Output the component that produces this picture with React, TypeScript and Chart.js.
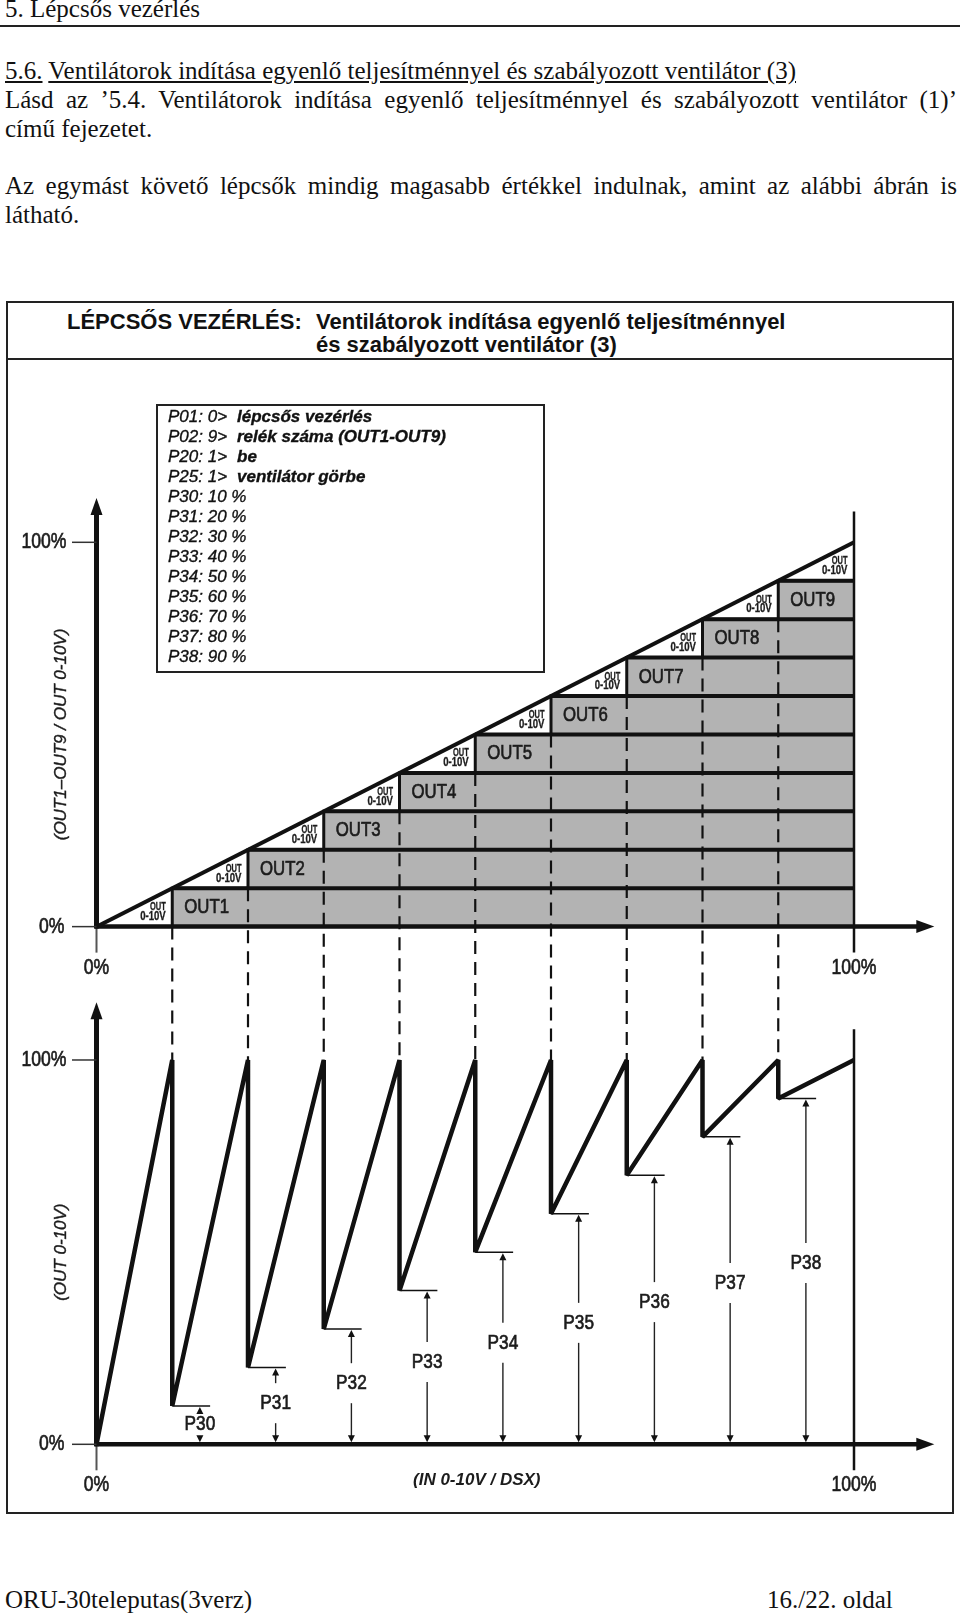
import React, { useEffect, useRef } from "react";
import { Chart, registerables } from "chart.js";

Chart.register(...registerables);

// ---------- data ----------
const stepLevels = [10, 20, 30, 40, 50, 60, 70, 80, 90]; // P30..P38 switch / restart levels (%)
const outLabels = ["OUT1", "OUT2", "OUT3", "OUT4", "OUT5", "OUT6", "OUT7", "OUT8", "OUT9"];
const paramNames = ["P30", "P31", "P32", "P33", "P34", "P35", "P36", "P37", "P38"];
const paramLabelPos = [5.2, 10.7, 15.9, 21.4, 26.4, 31.6, 37.0, 42.0, 47.2];
const axisTickLabels = ["0%", "100%"];
const triangleLabel = ["OUT", "0-10V"];
const topYTitle = "(OUT1–OUT9 / OUT 0-10V)";
const bottomYTitle = "(OUT 0-10V)";
const bottomXTitle = "(IN 0-10V / DSX)";
const settingRows = [
  ["P01:", "0>", "lépcsős vezérlés"],
  ["P02:", "9>", "relék száma (OUT1-OUT9)"],
  ["P20:", "1>", "be"],
  ["P25:", "1>", "ventilátor görbe"],
];

// vertical offset (in bottom-panel % units) of the upper panel's 0% line
const TOP = 134.7;

const SANS = '"Liberation Sans", Arial, sans-serif';
const SERIF = '"Liberation Serif", "Times New Roman", serif';

function cText(ctx: CanvasRenderingContext2D, text: string, x: number, y: number, font: string, align: CanvasTextAlign, sx: number, color = "#1c1c1c", stroke = 0.7) {
  ctx.save();
  ctx.font = font;
  ctx.fillStyle = color;
  ctx.strokeStyle = color;
  ctx.lineWidth = stroke;
  ctx.textBaseline = "middle";
  ctx.textAlign = align;
  ctx.translate(x, y);
  ctx.scale(sx, 1);
  ctx.fillText(text, 0, 0);
  if (stroke > 0) ctx.strokeText(text, 0, 0);
  ctx.restore();
}

function tri(ctx: CanvasRenderingContext2D, pts: number[][]) {
  ctx.beginPath();
  ctx.moveTo(pts[0][0], pts[0][1]);
  for (let i = 1; i < pts.length; i++) ctx.lineTo(pts[i][0], pts[i][1]);
  ctx.closePath();
  ctx.fill();
}

const decorPlugin = {
  id: "decor",
  afterDatasetsDraw(chart: any) {
    const ctx: CanvasRenderingContext2D = chart.ctx;
    const xs = chart.scales.x;
    const ys = chart.scales.y;
    const X = (v: number) => xs.getPixelForValue(v);
    const Y = (v: number) => ys.getPixelForValue(v);
    ctx.save();
    ctx.strokeStyle = "#111";
    ctx.fillStyle = "#111";
    ctx.lineCap = "butt";

    const panels = [
      { base: TOP, tip: 111.5, title: topYTitle },
      { base: 0, tip: 115, title: bottomYTitle },
    ];
    panels.forEach((p) => {
      const x0 = X(0);
      const y0 = Y(p.base);
      // thin continuation below origin
      ctx.strokeStyle = "#555";
      ctx.lineWidth = 2;
      ctx.beginPath();
      ctx.moveTo(x0, y0);
      ctx.lineTo(x0, y0 + 26);
      ctx.stroke();
      // 100% vertical
      ctx.strokeStyle = "#111";
      ctx.lineWidth = 2.5;
      ctx.beginPath();
      ctx.moveTo(X(100), Y(p.base + 108));
      ctx.lineTo(X(100), y0 + 26);
      ctx.stroke();
      // y axis
      const yt = Y(p.base + p.tip);
      ctx.lineWidth = 5;
      ctx.beginPath();
      ctx.moveTo(x0, y0 + 2);
      ctx.lineTo(x0, yt + 12);
      ctx.stroke();
      ctx.fillStyle = "#111";
      tri(ctx, [[x0, yt], [x0 - 6, yt + 17], [x0 + 6, yt + 17]]);
      // x axis
      const xt = X(110.6);
      ctx.lineWidth = 4.5;
      ctx.beginPath();
      ctx.moveTo(x0 - 2, y0);
      ctx.lineTo(xt - 12, y0);
      ctx.stroke();
      tri(ctx, [[xt, y0], [xt - 18, y0 - 6.5], [xt - 18, y0 + 6.5]]);
      // y ticks
      ctx.lineWidth = 1.5;
      ctx.strokeStyle = "#333";
      [0, 100].forEach((v) => {
        ctx.beginPath();
        ctx.moveTo(x0 - 24.5, Y(p.base + v));
        ctx.lineTo(x0, Y(p.base + v));
        ctx.stroke();
      });
      cText(ctx, axisTickLabels[0], x0 - 32, y0, `22px ${SANS}`, "right", 0.8);
      cText(ctx, axisTickLabels[1], x0 - 30, Y(p.base + 100), `22px ${SANS}`, "right", 0.8);
      cText(ctx, axisTickLabels[0], X(0), y0 + 41, `22px ${SANS}`, "center", 0.8);
      cText(ctx, axisTickLabels[1], X(100), y0 + 41, `22px ${SANS}`, "center", 0.8);
      // rotated axis title
      ctx.save();
      ctx.translate(x0 - 35.5, Y(p.base + 50));
      ctx.rotate(-Math.PI / 2);
      ctx.font = `italic 17px ${SANS}`;
      ctx.fillStyle = "#1c1c1c";
      ctx.strokeStyle = "#1c1c1c";
      ctx.lineWidth = 0.4;
      ctx.textAlign = "center";
      ctx.textBaseline = "middle";
      ctx.fillText(p.title, 0, 0);
      ctx.strokeText(p.title, 0, 0);
      ctx.restore();
    });

    // bottom x title
    ctx.font = `bold italic 17px ${SANS}`;
    ctx.fillStyle = "#1c1c1c";
    ctx.textAlign = "center";
    ctx.textBaseline = "middle";
    ctx.fillText(bottomXTitle, X(50.2), Y(0) + 36);

    // OUT labels in the grey blocks
    stepLevels.forEach((l, i) => {
      cText(ctx, outLabels[i], X(l) + 12, Y(TOP + l - 5), `21px ${SANS}`, "left", 0.8);
    });
    // "OUT 0-10V" labels in white triangles
    [0, ...stepLevels].forEach((l) => {
      const right = X(l + 10) - 6.5;
      const bottom = Y(TOP + l);
      cText(ctx, triangleLabel[0], right, bottom - 19.5, `bold 11px ${SANS}`, "right", 0.68, "#1c1c1c", 0.3);
      cText(ctx, triangleLabel[1], right, bottom - 10, `bold 12px ${SANS}`, "right", 0.8, "#1c1c1c", 0.3);
    });

    // P30..P38 dimension arrows
    stepLevels.forEach((l, i) => {
      const ax = X(l + 3.65);
      const top = Y(l);
      const bot = Y(0);
      const ly = Y(paramLabelPos[i]);
      ctx.strokeStyle = "#222";
      ctx.fillStyle = "#111";
      ctx.lineWidth = 1.4;
      if (ly - 20 > top + 6) {
        ctx.beginPath();
        ctx.moveTo(ax, top + 5);
        ctx.lineTo(ax, ly - 20);
        ctx.stroke();
      }
      if (ly + 20 < bot - 6) {
        ctx.beginPath();
        ctx.moveTo(ax, ly + 20);
        ctx.lineTo(ax, bot - 5);
        ctx.stroke();
      }
      tri(ctx, [[ax, top + 1], [ax - 3.5, top + 8], [ax + 3.5, top + 8]]);
      tri(ctx, [[ax, bot - 2], [ax - 3.5, bot - 9], [ax + 3.5, bot - 9]]);
      cText(ctx, paramNames[i], ax, ly, `21px ${SANS}`, "center", 0.82);
    });
    ctx.restore();
  },
};

function line(data: { x: number; y: number }[], extra: any = {}) {
  return {
    type: "line",
    data,
    borderColor: "#111",
    borderWidth: 4,
    borderJoinStyle: "bevel",
    pointRadius: 0,
    fill: false,
    tension: 0,
    order: 0,
    ...extra,
  };
}

export default function App() {
  const canvasRef = useRef<HTMLCanvasElement | null>(null);

  useEffect(() => {
    const canvas = canvasRef.current;
    if (!canvas) return;

    const last = stepLevels[stepLevels.length - 1];
    const stairs = [{ x: stepLevels[0], y: TOP }, ...stepLevels.map((l) => ({ x: l, y: TOP + l })), { x: 100, y: TOP + last }];
    const datasets: any[] = [];
    // grey staircase (OUT1..OUT9 blocks)
    datasets.push(
      line(stairs, {
        stepped: "before",
        fill: { value: TOP },
        backgroundColor: "#b3b3b3",
        borderWidth: 3,
        borderJoinStyle: "miter",
        order: 10,
      })
    );
    // level lines across the blocks
    stepLevels.forEach((l) => datasets.push(line([{ x: l, y: TOP + l }, { x: 100, y: TOP + l }], { borderWidth: 4, order: 1 })));
    // diagonal OUT 0-10V envelope
    datasets.push(line([{ x: 0, y: TOP }, { x: 100, y: TOP + 100 }], { borderWidth: 4, order: 1 }));
    // dashed switching lines
    stepLevels.forEach((l, i) => {
      const from = i === 0 ? 0 : stepLevels[i - 1];
      datasets.push(line([{ x: l, y: TOP + from }, { x: l, y: 100 }], { borderWidth: 2.2, borderDash: [13, 8], order: 2 }));
    });
    // sawtooth of the regulated output
    const saw = [{ x: 0, y: 0 }, ...stepLevels.flatMap((l) => [{ x: l, y: 100 }, { x: l, y: l }]), { x: 100, y: 100 }];
    datasets.push(line(saw, { borderWidth: 4.5, order: 0 }));
    // restart level reference ticks
    stepLevels.forEach((l) => datasets.push(line([{ x: l, y: l }, { x: l + 5, y: l }], { borderWidth: 1.5, order: 1 })));

    const chart = new Chart(canvas, {
      type: "line",
      data: { datasets },
      options: {
        animation: false,
        responsive: false,
        devicePixelRatio: 1,
        events: [],
        layout: { padding: { left: 96.5, right: 106, top: 123.5, bottom: 4.2 } },
        plugins: { legend: { display: false }, tooltip: { enabled: false }, title: { display: false } },
        scales: {
          x: { type: "linear", min: 0, max: 100, display: false },
          y: { type: "linear", min: -16, max: 250, display: false },
        },
      },
      plugins: [decorPlugin],
    } as any);
    return () => chart.destroy();
  }, []);

  const serif: React.CSSProperties = {
    position: "absolute",
    fontFamily: SERIF,
    fontSize: 25,
    lineHeight: "29px",
    color: "#111",
    whiteSpace: "nowrap",
    margin: 0,
  };
  const justified: React.CSSProperties = {
    ...serif,
    left: 5,
    width: 952,
    textAlign: "justify",
    textAlignLast: "justify" as any,
  };
  const boldTitle: React.CSSProperties = {
    position: "absolute",
    fontFamily: SANS,
    fontWeight: "bold",
    fontSize: 22,
    lineHeight: "23px",
    color: "#111",
    whiteSpace: "nowrap",
  };

  return (
    <div style={{ position: "absolute", left: 0, top: 0, width: 960, height: 1613, background: "#fff", overflow: "hidden" }}>
      <div style={{ ...serif, left: 5, top: -6 }}>5. Lépcsős vezérlés</div>
      <div style={{ position: "absolute", left: 0, top: 25, width: 960, height: 2, background: "#222" }} />

      <div style={{ ...serif, left: 5, top: 56 }}>
        <u>5.6.</u> <u>Ventilátorok indítása egyenlő teljesítménnyel és szabályozott ventilátor (3)</u>
      </div>
      <div style={{ ...justified, top: 85 }}>Lásd az ’5.4. Ventilátorok indítása egyenlő teljesítménnyel és szabályozott ventilátor (1)’</div>
      <div style={{ ...serif, left: 5, top: 114 }}>című fejezetet.</div>
      <div style={{ ...justified, top: 171 }}>Az egymást követő lépcsők mindig magasabb értékkel indulnak, amint az alábbi ábrán is</div>
      <div style={{ ...serif, left: 5, top: 200 }}>látható.</div>

      {/* diagram frame */}
      <div style={{ position: "absolute", left: 6, top: 301, width: 948, height: 1213, border: "2px solid #222", boxSizing: "border-box" }} />
      <div style={{ position: "absolute", left: 6, top: 358, width: 948, height: 2, background: "#222" }} />
      <div style={{ ...boldTitle, left: 67, top: 310 }}>LÉPCSŐS VEZÉRLÉS:</div>
      <div style={{ ...boldTitle, left: 316, top: 310 }}>Ventilátorok indítása egyenlő teljesítménnyel</div>
      <div style={{ ...boldTitle, left: 316, top: 333 }}>és szabályozott ventilátor (3)</div>

      <canvas ref={canvasRef} width={960} height={1150} style={{ position: "absolute", left: 0, top: 360, width: 960, height: 1150 }} />

      {/* parameter box */}
      <div style={{ position: "absolute", left: 156, top: 404, width: 389, height: 269, border: "2px solid #222", boxSizing: "border-box" }} />
      <div
        style={{
          position: "absolute",
          left: 168,
          top: 407,
          fontFamily: SANS,
          fontStyle: "italic",
          fontSize: 17,
          lineHeight: "20px",
          color: "#111",
          whiteSpace: "nowrap",
          WebkitTextStroke: "0.35px #111",
        }}
      >
        {settingRows.map((r) => (
          <div key={r[0]}>
            <span style={{ display: "inline-block", width: 69 }}>
              {r[0]} {r[1]}
            </span>
            <b>{r[2]}</b>
          </div>
        ))}
        {paramNames.map((n, i) => (
          <div key={n}>{`${n}: ${stepLevels[i]} %`}</div>
        ))}
      </div>

      <div style={{ ...serif, left: 5, top: 1585 }}>ORU-30teleputas(3verz)</div>
      <div style={{ ...serif, left: 767, top: 1585 }}>16./22. oldal</div>
    </div>
  );
}
